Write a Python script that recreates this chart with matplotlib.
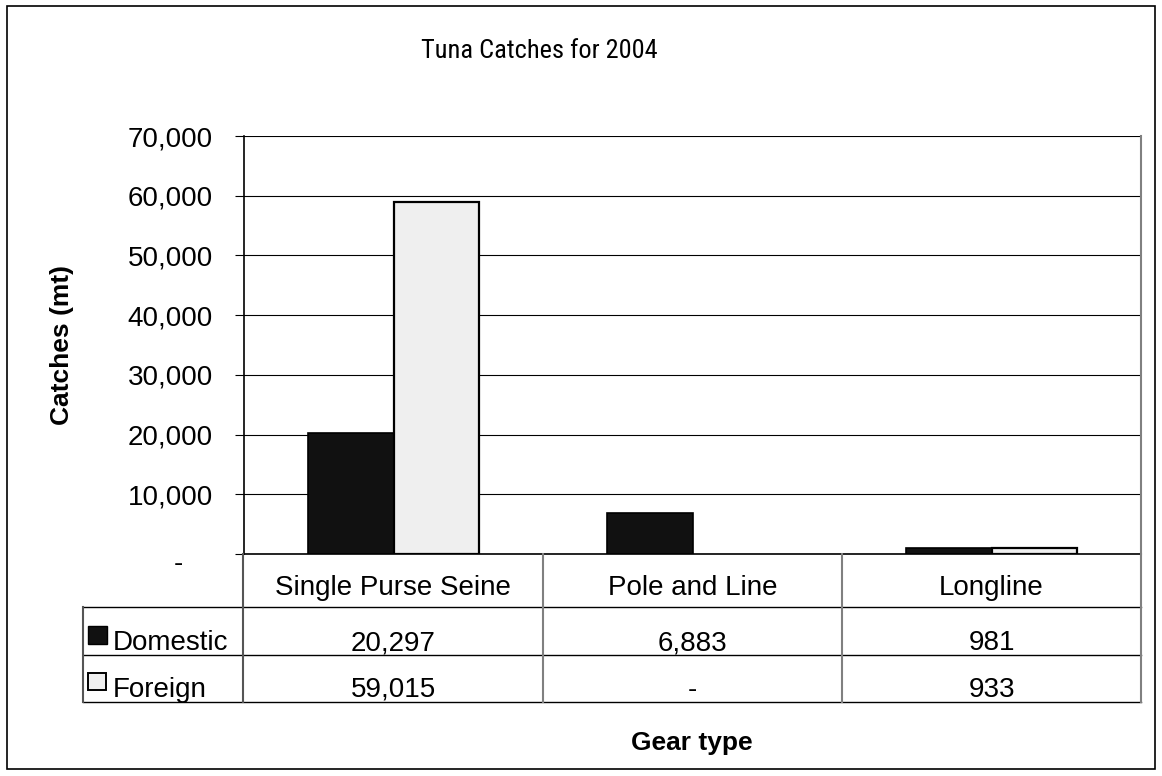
import matplotlib
matplotlib.use("Agg")
import matplotlib.pyplot as plt
from matplotlib.lines import Line2D
from matplotlib.patches import Rectangle
from matplotlib import font_manager

# ---- data ----
categories = ["Single Purse Seine", "Pole and Line", "Longline"]
series_names = ["Domestic", "Foreign"]
domestic = [20297, 6883, 981]
foreign = [59015, 0, 933]
y_ticks = [0, 10000, 20000, 30000, 40000, 50000, 60000, 70000]
title = "Tuna Catches for 2004"
y_label = "Catches (mt)"
x_label = "Gear type"

W, H = 1162, 776
plt.rcParams['font.family'] = ['Liberation Sans', 'DejaVu Sans']

# pick a narrow font for the title if one is installed
narrow = None
names = {f.name: f for f in font_manager.fontManager.ttflist}
for cand in ["Liberation Sans Narrow", "Arial Narrow", "Roboto Condensed",
             "Open Sans Condensed", "DejaVu Sans Condensed"]:
    if cand in names:
        narrow = cand
        break
condensed_dejavu = any(f.name == "DejaVu Sans" and str(f.stretch) in ("condensed", "semi-condensed")
                       for f in font_manager.fontManager.ttflist)

fig = plt.figure(figsize=(W / 100, H / 100), dpi=100)
fig.patch.set_facecolor("white")


def fx(x):
    return x / W


def fy(y):
    return 1 - y / H


L, R, T, B = 244, 1141, 136, 554
ax = fig.add_axes([fx(L), fy(B), fx(R) - fx(L), fy(T) - fy(B)])

n = len(categories)
bw = 1 / 3.5
xs = list(range(n))
ax.bar([x - bw / 2 for x in xs], domestic, width=bw, color="#111111",
       edgecolor="black", linewidth=[1.2 if v else 0 for v in domestic], zorder=3)
ax.bar([x + bw / 2 for x in xs], foreign, width=bw, color="#efefef",
       edgecolor="black", linewidth=[1.6 if v else 0 for v in foreign], zorder=3)

ax.set_xlim(-0.5, n - 0.5)
ax.set_ylim(0, 70000)
ax.set_yticks(y_ticks)
ax.set_yticklabels(["" if v == 0 else f"{v:,}" for v in y_ticks], fontsize=20)
ax.tick_params(axis="y", direction="out", length=6.5, width=0.8, pad=16, colors="black")
ax.set_xticks([])
ax.yaxis.grid(True, color="black", linewidth=0.8, zorder=1)
ax.set_axisbelow(True)
ax.spines["top"].set_visible(False)
ax.spines["left"].set_linewidth(1.2)
ax.spines["bottom"].set_linewidth(1.2)
ax.spines["right"].set_color("#808080")
ax.spines["right"].set_linewidth(1.5)

# zero label
fig.text(fx(178), fy(564), "-", fontsize=20, ha="center", va="center")

# title and axis labels
if narrow:
    fig.text(fx(539), fy(58), title, fontsize=19, ha="center", va="baseline",
             family=[narrow, "Liberation Sans", "DejaVu Sans"])
elif condensed_dejavu:
    fig.text(fx(539), fy(58), title, fontsize=18, ha="center", va="baseline",
             family=["DejaVu Sans"], stretch="condensed")
else:
    fig.text(fx(539), fy(58), title, fontsize=16, ha="center", va="baseline",
             family=["Liberation Sans", "DejaVu Sans"])
fig.text(fx(62), fy(345), y_label, fontsize=19, fontweight="bold",
         rotation=90, ha="center", va="center")
fig.text(fx(692), fy(750), x_label, fontsize=19, fontweight="bold",
         ha="center", va="baseline")

# ---- data table ----
col_edges = [243, 543, 842, 1141]
row_edges = [554, 607, 655, 702]
tbl_left = 83


def hline(x0, x1, y, color="black", lw=1.0):
    fig.add_artist(Line2D([fx(x0), fx(x1)], [fy(y), fy(y)], color=color, lw=lw,
                          transform=fig.transFigure))


def vline(x, y0, y1, color="#808080", lw=1.5):
    fig.add_artist(Line2D([fx(x), fx(x)], [fy(y0), fy(y1)], color=color, lw=lw,
                          transform=fig.transFigure))


hline(tbl_left, col_edges[-1], row_edges[1])
hline(tbl_left, col_edges[-1], row_edges[2])
hline(tbl_left, col_edges[-1], row_edges[3])
vline(tbl_left, row_edges[1], row_edges[3], color="#555555")
vline(col_edges[0], row_edges[0], row_edges[3], color="#555555")
for xc in col_edges[1:-1]:
    vline(xc, row_edges[0], row_edges[3])
vline(col_edges[-1], row_edges[0], row_edges[3])

centers = [(col_edges[i] + col_edges[i + 1]) / 2 for i in range(n)]
for c, name in zip(centers, categories):
    fig.text(fx(c), fy(595), name, fontsize=20, ha="center", va="baseline")


def fmt(v):
    return "-" if v == 0 else f"{v:,}"


for c, v in zip(centers, domestic):
    fig.text(fx(c), fy(650), fmt(v), fontsize=20, ha="center", va="baseline")
for c, v in zip(centers, foreign):
    fig.text(fx(c), fy(697), fmt(v), fontsize=20, ha="center", va="baseline")

# legend keys in table
fig.add_artist(Rectangle((fx(88), fy(644)), fx(107) - fx(88), fy(626) - fy(644),
                         facecolor="#111111", edgecolor="black", lw=1,
                         transform=fig.transFigure))
fig.add_artist(Rectangle((fx(88), fy(690)), fx(106) - fx(88), fy(673) - fy(690),
                         facecolor="#efefef", edgecolor="black", lw=1.4,
                         transform=fig.transFigure))
fig.text(fx(113), fy(650), series_names[0], fontsize=20, ha="left", va="baseline")
fig.text(fx(113), fy(697), series_names[1], fontsize=20, ha="left", va="baseline")

# outer border
fig.add_artist(Rectangle((fx(7), fy(769)), fx(1155) - fx(7), fy(6) - fy(769),
                         facecolor="none", edgecolor="black", lw=1.2,
                         transform=fig.transFigure))

fig.savefig("out.png", dpi=100, facecolor="white")
